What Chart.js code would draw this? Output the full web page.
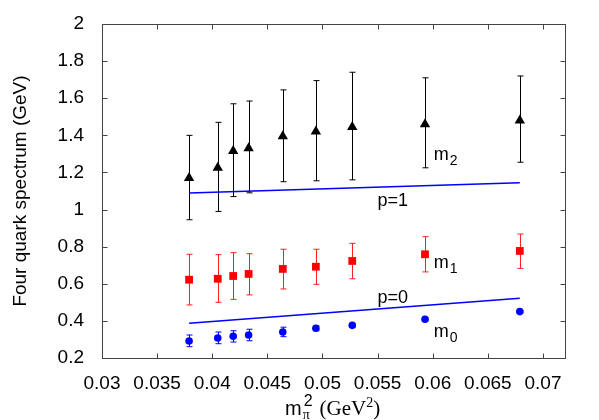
<!DOCTYPE html>
<html>
<head>
<meta charset="utf-8">
<script src="https://cdn.jsdelivr.net/npm/chart.js@4/dist/chart.umd.min.js"></script>
<style>
  html, body { margin: 0; padding: 0; background: #fff; }
  #wrap { width: 599px; height: 420px; }
</style>
</head>
<body>
<div id="wrap"><canvas id="spectrum"></canvas></div>
<script>
// pion mass squared (GeV^2)
const mpi2 = [0.0379, 0.0405, 0.0419, 0.0433, 0.0464, 0.0494, 0.0527, 0.0593, 0.0679];

// m2 - black triangles
const m2 = [1.17, 1.225, 1.315, 1.33, 1.395, 1.42, 1.445, 1.46, 1.48];
const m2Lo = [0.945, 0.99, 1.07, 1.09, 1.15, 1.155, 1.16, 1.225, 1.255];
const m2Hi = [1.40, 1.47, 1.57, 1.585, 1.645, 1.695, 1.74, 1.71, 1.72];

// m1 - red squares
const m1 = [0.622, 0.627, 0.642, 0.653, 0.68, 0.692, 0.723, 0.759, 0.777];
const m1Lo = [0.486, 0.50, 0.516, 0.54, 0.572, 0.597, 0.627, 0.664, 0.683];
const m1Hi = [0.759, 0.757, 0.768, 0.762, 0.786, 0.786, 0.818, 0.854, 0.868];

// m0 - blue circles
const m0 = [0.292, 0.308, 0.317, 0.324, 0.340, 0.360, 0.376, 0.409, 0.450];
const m0Lo = [0.261, 0.277, 0.286, 0.293, 0.315, 0.347, 0.365, 0.401, 0.444];
const m0Hi = [0.324, 0.340, 0.347, 0.355, 0.366, 0.373, 0.387, 0.417, 0.456];

// p=1 and p=0 lines
const lineX = [0.0379, 0.0679];
const p1 = [1.089, 1.145];
const p0 = [0.387, 0.522];

// axis ticks
const xTicks = [0.03, 0.035, 0.04, 0.045, 0.05, 0.055, 0.06, 0.065, 0.07];
const yTicks = [0.2, 0.4, 0.6, 0.8, 1, 1.2, 1.4, 1.6, 1.8, 2];

// text labels in the plot: [text, subscript, x, y(baseline)]
const labels = [
  ['m', '2', 0.0601, 1.267],
  ['m', '1', 0.0601, 0.683],
  ['m', '0', 0.0601, 0.315],
  ['p=1', '', 0.0550, 1.019],
  ['p=0', '', 0.0550, 0.495]
];

const SANS = '"Liberation Sans", Arial, Helvetica, sans-serif';
const SERIF = '"Liberation Serif", "Times New Roman", serif';

function pts(xs, ys) {
  return xs.map((x, i) => ({ x: x, y: ys[i] }));
}

// draws error bars before the markers
const errorBars = {
  id: 'errorBars',
  beforeDatasetsDraw(chart) {
    const ctx = chart.ctx;
    const xs = chart.scales.x, ys = chart.scales.y;
    const sets = [[m2Lo, m2Hi, '#000'], [m1Lo, m1Hi, '#ff2020'], [m0Lo, m0Hi, '#0000ff']];
    ctx.save();
    ctx.lineWidth = 1;
    sets.forEach(s => {
      ctx.strokeStyle = s[2];
      mpi2.forEach((x, i) => {
        const px = Math.round(xs.getPixelForValue(x)) + 0.5;
        const lo = ys.getPixelForValue(s[0][i]);
        const hi = ys.getPixelForValue(s[1][i]);
        ctx.beginPath();
        ctx.moveTo(px, lo); ctx.lineTo(px, hi);
        ctx.moveTo(px - 3, lo); ctx.lineTo(px + 3, lo);
        ctx.moveTo(px - 3, hi); ctx.lineTo(px + 3, hi);
        ctx.stroke();
      });
    });
    ctx.restore();
  }
};

// frame, inward ticks, axis titles and in-plot labels
const decorations = {
  id: 'decorations',
  afterDraw(chart) {
    const ctx = chart.ctx;
    const a = chart.chartArea;
    const xs = chart.scales.x, ys = chart.scales.y;
    ctx.save();
    ctx.strokeStyle = '#444';
    ctx.lineWidth = 1;
    const L = Math.round(a.left) + 0.5, R = Math.round(a.right) + 0.5;
    const T = Math.round(a.top) + 0.5, B = Math.round(a.bottom) + 0.5;
    ctx.strokeRect(L, T, R - L, B - T);
    ctx.beginPath();
    xTicks.forEach(v => {
      const px = Math.round(xs.getPixelForValue(v)) + 0.5;
      ctx.moveTo(px, B); ctx.lineTo(px, B - 5);
      ctx.moveTo(px, T); ctx.lineTo(px, T + 5);
    });
    yTicks.forEach(v => {
      const py = Math.round(ys.getPixelForValue(v)) + 0.5;
      ctx.moveTo(L, py); ctx.lineTo(L + 5, py);
      ctx.moveTo(R, py); ctx.lineTo(R - 5, py);
    });
    ctx.stroke();

    ctx.fillStyle = '#000';
    ctx.textBaseline = 'alphabetic';
    ctx.textAlign = 'left';
    labels.forEach(l => {
      const px = xs.getPixelForValue(l[2]);
      const py = ys.getPixelForValue(l[3]);
      ctx.font = '18px ' + SANS;
      ctx.fillText(l[0], px, py);
      if (l[1]) {
        const w = ctx.measureText(l[0]).width;
        ctx.font = '14px ' + SANS;
        ctx.fillText(l[1], px + w + 1, py + 5);
      }
    });

    // y axis title
    ctx.save();
    ctx.translate(26, (a.top + a.bottom) / 2);
    ctx.rotate(-Math.PI / 2);
    ctx.textAlign = 'center';
    ctx.font = '19px ' + SANS;
    ctx.fillText('Four quark spectrum (GeV)', 0, 0);
    ctx.restore();

    // x axis title: m_pi^2 (GeV^2)
    let x = 285;
    const base = 415;
    ctx.textAlign = 'left';
    ctx.font = '20px ' + SANS;
    ctx.fillText('m', x, base);
    x += ctx.measureText('m').width;
    ctx.font = '14px ' + SERIF;
    ctx.fillText('\u03c0', x + 1, base + 4);
    ctx.font = '16px ' + SANS;
    ctx.fillText('2', x + 2, base - 9);
    x += ctx.measureText('2').width + 9;
    ctx.font = '21px ' + SERIF;
    ctx.fillText('(GeV', x, base);
    x += ctx.measureText('(GeV').width;
    ctx.font = '14px ' + SERIF;
    ctx.fillText('2', x, base - 8);
    x += ctx.measureText('2').width;
    ctx.font = '21px ' + SERIF;
    ctx.fillText(')', x, base);
    ctx.restore();
  }
};

const ctx = document.getElementById('spectrum').getContext('2d');
new Chart(ctx, {
  type: 'scatter',
  data: {
    datasets: [
      {
        label: 'm2',
        data: pts(mpi2, m2),
        pointStyle: 'triangle',
        pointRadius: 6,
        backgroundColor: '#000',
        borderColor: '#000',
        borderWidth: 0
      },
      {
        label: 'm1',
        data: pts(mpi2, m1),
        pointStyle: 'rect',
        pointRadius: 5.5,
        backgroundColor: '#ff0000',
        borderColor: '#ff0000',
        borderWidth: 0
      },
      {
        label: 'm0',
        data: pts(mpi2, m0),
        pointStyle: 'circle',
        pointRadius: 3.8,
        backgroundColor: '#0000ff',
        borderColor: '#0000ff',
        borderWidth: 0
      },
      {
        label: 'p=1',
        data: pts(lineX, p1),
        showLine: true,
        pointRadius: 0,
        borderColor: '#0000ff',
        borderWidth: 1.5
      },
      {
        label: 'p=0',
        data: pts(lineX, p0),
        showLine: true,
        pointRadius: 0,
        borderColor: '#0000ff',
        borderWidth: 1.5
      }
    ]
  },
  options: {
    responsive: true,
    maintainAspectRatio: false,
    animation: false,
    layout: { padding: { top: 24, right: 34, left: 0, bottom: 0 } },
    plugins: {
      legend: { display: false },
      tooltip: { enabled: false }
    },
    scales: {
      x: {
        type: 'linear',
        min: 0.03,
        max: 0.072,
        afterFit(scale) { scale.height = 62; },
        afterBuildTicks(scale) { scale.ticks = xTicks.map(v => ({ value: v })); },
        ticks: {
          color: '#000',
          font: { family: SANS, size: 19 },
          padding: 6,
          maxRotation: 0,
          callback: v => String(Number(v.toFixed(3)))
        },
        grid: { display: false },
        border: { display: false }
      },
      y: {
        type: 'linear',
        min: 0.2,
        max: 2,
        afterFit(scale) { scale.width = 102; },
        afterBuildTicks(scale) { scale.ticks = yTicks.map(v => ({ value: v })); },
        ticks: {
          color: '#000',
          font: { family: SANS, size: 19 },
          padding: 10,
          callback: v => String(Number(v.toFixed(1)))
        },
        grid: { display: false },
        border: { display: false }
      }
    }
  },
  plugins: [errorBars, decorations]
});
</script>
</body>
</html>
